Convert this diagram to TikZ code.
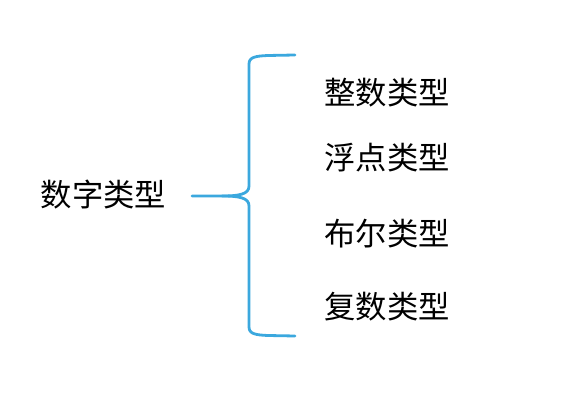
\documentclass[tikz,border=0pt]{standalone}
\usepackage{fontspec}
\newfontfamily\cjk{Noto Sans CJK SC}
\usetikzlibrary{positioning}
\definecolor{braceblue}{RGB}{59,168,222}

\begin{document}
\begin{tikzpicture}[
  x=0.75pt, y=-0.75pt,
  lbl/.style={font=\cjk\fontsize{23.5}{27}\selectfont, inner sep=0pt, anchor=center},
  brc/.style={draw=braceblue, line width=2.1pt, line cap=round, line join=round},
]
\useasboundingbox (0,0) rectangle (574,413);
% ================= root =================
\node[lbl] (root) at (103.5,195) {数字类型};
\coordinate (tip) at (192,196);
% ================= items =================
\node[lbl] (t1) at (387,93) {整数类型};
\node[lbl] (t2) at (387,158) {浮点类型};
\node[lbl] (t3) at (387,234) {布尔类型};
\node[lbl] (t4) at (387,307) {复数类型};
\coordinate (top) at (295,55);
\coordinate (bot) at (295,336);
% ================= brace =================
\draw[brc] (tip) -- (222,196) .. controls (240,196) and (249,194) .. (249,186)
  -- (249,64) .. controls (249,57) and (256,56) .. (268,55.5) -- (top);
\draw[brc] (222,196) .. controls (240,196) and (249,198) .. (249,206)
  -- (249,327) .. controls (249,334) and (256,335) .. (268,335.5) -- (bot);
\end{tikzpicture}
\end{document}
